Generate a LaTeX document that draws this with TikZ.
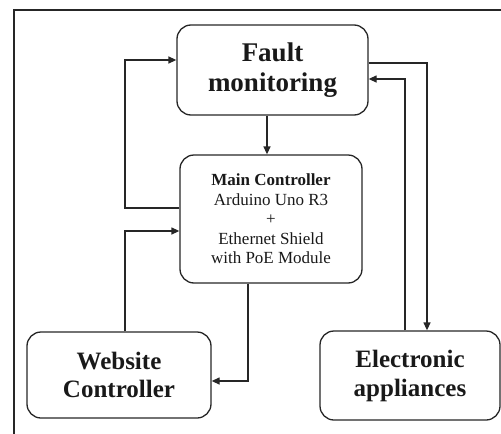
\documentclass[tikz,border=0pt]{standalone}
\usepackage{fontspec}
\setmainfont{Liberation Serif}
\usetikzlibrary{arrows.meta}
\begin{document}
\begin{tikzpicture}[x=1pt,y=-1pt,line width=1.3pt,draw=black!85,
    blk/.style={draw,rounded corners=14pt,align=center,inner sep=0pt,text=black!90},
    >={Triangle[length=8pt,width=7pt]}]
  \useasboundingbox (0,0) rectangle (501,434);
  % frame
  \draw[line width=1.2pt] (501,10) -- (14,10) -- (14,434);
  % blocks
  \node[blk,minimum width=191pt,minimum height=90pt,font=\fontsize{27}{30}\selectfont\bfseries] (fault) at (272.5,70) {Fault\\monitoring};
  \node[blk,minimum width=182pt,minimum height=128pt,font=\fontsize{17}{19.5}\selectfont] (main) at (271,219) {\textbf{Main Controller}\\Arduino Uno R3\\+\\Ethernet Shield\\with PoE Module};
  \node[blk,minimum width=184pt,minimum height=86pt,font=\fontsize{25}{28}\selectfont\bfseries] (web) at (119,375) {Website\\Controller};
  \node[blk,minimum width=180pt,minimum height=89pt,font=\fontsize{25}{29}\selectfont\bfseries] (elec) at (410,375.5) {Electronic\\appliances};
  % bend points
  \coordinate (a) at (125,208);
  \coordinate (b) at (125,60);
  \coordinate (c) at (125,231);
  \coordinate (d) at (248,381);
  \coordinate (e) at (427,63);
  \coordinate (f) at (405,79);
  \coordinate (g) at (267,0);
  % connectors
  \draw[->] (fault.south -| g) -- (main.north -| g);
  \draw[->] (main.west |- a) -- (a) -- (b) -- (fault.west |- b);
  \draw[->] (web.north -| c) -- (c) -- (main.west |- c);
  \draw[->] (main.south -| d) -- (d) -- (web.east |- d);
  \draw[->] (fault.east |- e) -- (e) -- (elec.north -| e);
  \draw[->] (elec.north -| f) -- (f) -- (fault.east |- f);
\end{tikzpicture}
\end{document}
